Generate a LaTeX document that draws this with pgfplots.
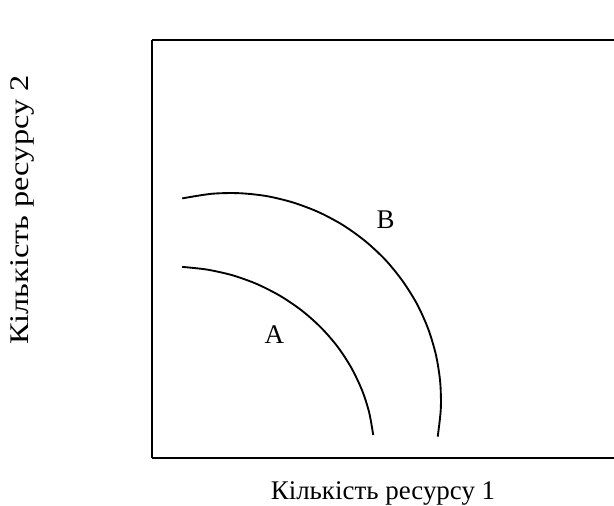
\documentclass[border=0pt]{standalone}
\usepackage{fontspec}
\setmainfont{Liberation Serif}
\usepackage{pgfplots}
\pgfplotsset{compat=1.18}
\begin{document}
\fontsize{20.2}{24}\selectfont
\begin{tikzpicture}
\begin{axis}[
  at={(114pt,36pt)}, anchor=south west,
  scale only axis,
  width=346.5pt, height=313.5pt,
  xmin=0, xmax=462, ymin=0, ymax=418,
  axis x line*=box, axis y line*=left,
  axis line style={line width=1.4pt, -},
  xtick=\empty, ytick=\empty,
  clip=false,
  xlabel={Кількість ресурсу 1},
  ylabel={Кількість ресурсу 2},
  every axis x label/.style={at={(axis description cs:0.5,-0.084)}, anchor=center},
  every axis y label/.style={at={(axis description cs:-0.281,0.593)}, anchor=center, rotate=90, xscale=1.2},
]
\addplot[smooth, black, line width=1.4pt] coordinates {
(30.2,259.6) (59.6,264.2) (87.2,264.8) (114.6,261.9) (141.4,255.4) (167.2,245.6) (191.4,232.6) (213.6,216.6) (233.6,197.9) (250.8,176.7) (265.2,153.6) (276.3,128.8) (284.0,102.8) (288.2,76.0) (288.8,49.0) (285.7,21.3)
};
\addplot[smooth, black, line width=1.4pt] coordinates {
(30.2,191.1) (55.1,188.4) (80.9,182.6) (105.5,173.7) (128.7,161.8) (150.1,147.2) (169.2,130.2) (185.8,111.0) (199.5,89.9) (210.2,67.4) (217.2,45.4) (221.2,23.0)
};
\node at (axis cs:122.3,123) {A};
\node at (axis cs:233.7,238.7) {B};
\end{axis}
\pgfresetboundingbox
\path (0,0) rectangle (460.5pt,379.5pt);
\end{tikzpicture}
\end{document}
